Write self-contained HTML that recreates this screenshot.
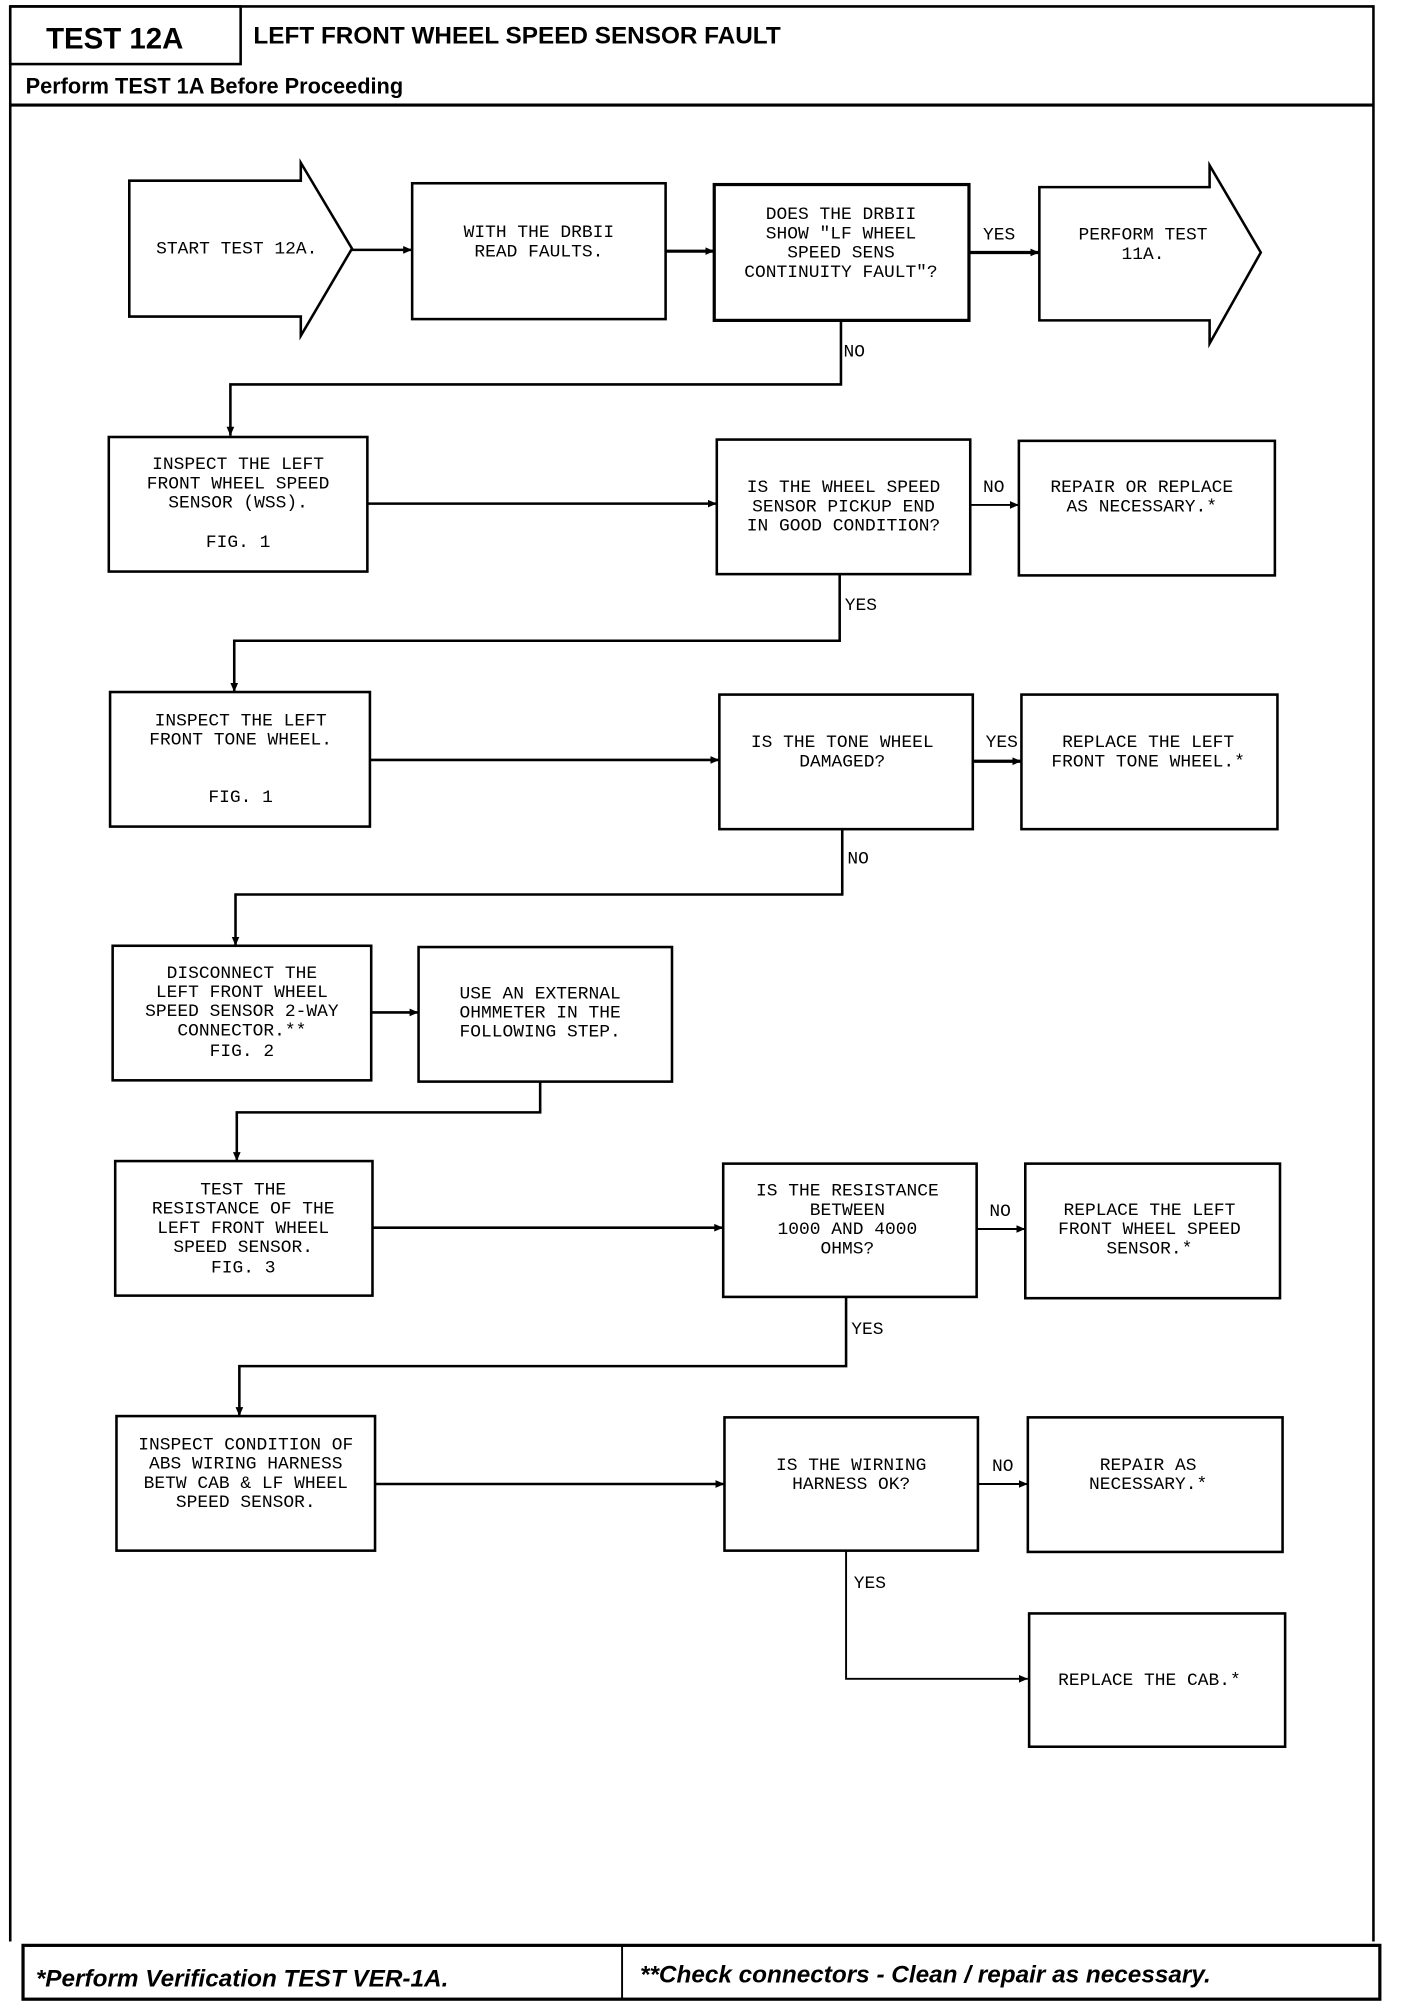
<!DOCTYPE html>
<html><head><meta charset="utf-8"><style>
html,body{margin:0;padding:0;background:#fff;}
svg{display:block;}
.t{font-family:"Liberation Mono",monospace;font-size:14px;fill:#000;text-anchor:middle;}
.l{font-family:"Liberation Mono",monospace;font-size:14px;fill:#000;}
.h{font-family:"Liberation Sans",sans-serif;font-weight:bold;fill:#000;}
rect,polygon,polyline,line{fill:none;stroke:#000;}
</style></head><body>
<svg width="1408" height="2012" viewBox="0 0 1100 1570" preserveAspectRatio="none" xmlns="http://www.w3.org/2000/svg">
<defs><marker id="a" markerWidth="8" markerHeight="8" refX="7" refY="4" orient="auto" markerUnits="userSpaceOnUse"><path d="M0,1 L7,4 L0,7 Z" fill="#000"/></marker></defs>
<polyline points="8,5 1073,5 1073,1515" stroke-width="2"/>
<line x1="8" y1="5" x2="8" y2="1515" stroke-width="2"/>
<rect x="8" y="5" width="180" height="45" stroke-width="2"/>
<line x1="8" y1="82" x2="1073" y2="82" stroke-width="2.5"/>
<text class="h" x="36" y="38" font-size="23">TEST 12A</text>
<text class="h" x="198" y="34" font-size="19">LEFT FRONT WHEEL SPEED SENSOR FAULT</text>
<text class="h" x="20" y="73" font-size="17">Perform TEST 1A Before Proceeding</text>
<rect x="18" y="1518" width="1060" height="42" stroke-width="2.5"/>
<line x1="486" y1="1518" x2="486" y2="1560" stroke-width="1.5"/>
<text class="h" x="28" y="1550" font-size="19" font-style="italic">*Perform Verification TEST VER-1A.</text>
<text class="h" x="500" y="1547" font-size="19" font-style="italic">**Check connectors - Clean / repair as necessary.</text>

<polygon points="101,141 235,141 235,127 275,194 235,262 235,247 101,247" stroke-width="2"/>
<text class="t" x="185" y="198">START TEST 12A.</text>
<rect x="322" y="143" width="198" height="106" stroke-width="2"/>
<text class="t" x="421" y="185">WITH THE DRBII</text><text class="t" x="421" y="200">READ FAULTS.</text>
<rect x="558" y="144" width="199" height="106" stroke-width="2.5"/>
<text class="t" x="657" y="171">DOES THE DRBII</text><text class="t" x="657" y="186">SHOW "LF WHEEL</text><text class="t" x="657" y="201">SPEED SENS</text><text class="t" x="657" y="216">CONTINUITY FAULT"?</text>
<polygon points="812,146 945,146 945,129 985,197 945,268 945,250 812,250" stroke-width="2"/>
<text class="t" x="893" y="187">PERFORM TEST</text><text class="t" x="893" y="202">11A.</text>
<line x1="275" y1="195" x2="322" y2="195" stroke-width="2" marker-end="url(#a)"/>
<line x1="520" y1="196" x2="558" y2="196" stroke-width="2.5" marker-end="url(#a)"/>
<line x1="757" y1="197" x2="812" y2="197" stroke-width="2.5" marker-end="url(#a)"/>
<text class="l" x="768" y="187">YES</text>
<polyline points="657,250 657,300 180,300 180,340" stroke-width="2" marker-end="url(#a)"/>
<text class="l" x="659" y="278">NO</text>

<rect x="85" y="341" width="202" height="105" stroke-width="2"/>
<text class="t" x="186" y="366">INSPECT THE LEFT</text><text class="t" x="186" y="381">FRONT WHEEL SPEED</text><text class="t" x="186" y="396">SENSOR (WSS).</text><text class="t" x="186" y="427">FIG. 1</text>
<rect x="560" y="343" width="198" height="105" stroke-width="2"/>
<text class="t" x="659" y="384">IS THE WHEEL SPEED</text><text class="t" x="659" y="399">SENSOR PICKUP END</text><text class="t" x="659" y="414">IN GOOD CONDITION?</text>
<rect x="796" y="344" width="200" height="105" stroke-width="2"/>
<text class="t" x="892" y="384">REPAIR OR REPLACE</text><text class="t" x="892" y="399">AS NECESSARY.*</text>
<line x1="287" y1="393" x2="560" y2="393" stroke-width="2" marker-end="url(#a)"/>
<line x1="758" y1="394" x2="796" y2="394" stroke-width="1.5" marker-end="url(#a)"/>
<text class="l" x="768" y="384">NO</text>
<polyline points="656,448 656,500 183,500 183,540" stroke-width="2" marker-end="url(#a)"/>
<text class="l" x="660" y="476">YES</text>

<rect x="86" y="540" width="203" height="105" stroke-width="2"/>
<text class="t" x="188" y="566">INSPECT THE LEFT</text><text class="t" x="188" y="581">FRONT TONE WHEEL.</text><text class="t" x="188" y="626">FIG. 1</text>
<rect x="562" y="542" width="198" height="105" stroke-width="2"/>
<text class="t" x="658" y="583">IS THE TONE WHEEL</text><text class="t" x="658" y="598">DAMAGED?</text>
<rect x="798" y="542" width="200" height="105" stroke-width="2"/>
<text class="t" x="897" y="583">REPLACE THE LEFT</text><text class="t" x="897" y="598">FRONT TONE WHEEL.*</text>
<line x1="289" y1="593" x2="562" y2="593" stroke-width="2" marker-end="url(#a)"/>
<line x1="760" y1="594" x2="798" y2="594" stroke-width="2.5" marker-end="url(#a)"/>
<text class="l" x="770" y="583">YES</text>
<polyline points="658,647 658,698 184,698 184,738" stroke-width="2" marker-end="url(#a)"/>
<text class="l" x="662" y="674">NO</text>

<rect x="88" y="738" width="202" height="105" stroke-width="2"/>
<text class="t" x="189" y="763">DISCONNECT THE</text><text class="t" x="189" y="778">LEFT FRONT WHEEL</text><text class="t" x="189" y="793">SPEED SENSOR 2-WAY</text><text class="t" x="189" y="808">CONNECTOR.**</text><text class="t" x="189" y="824">FIG. 2</text>
<rect x="327" y="739" width="198" height="105" stroke-width="2"/>
<text class="t" x="422" y="779">USE AN EXTERNAL</text><text class="t" x="422" y="794">OHMMETER IN THE</text><text class="t" x="422" y="809">FOLLOWING STEP.</text>
<line x1="290" y1="790" x2="327" y2="790" stroke-width="2" marker-end="url(#a)"/>
<polyline points="422,844 422,868 185,868 185,906" stroke-width="2" marker-end="url(#a)"/>

<rect x="90" y="906" width="201" height="105" stroke-width="2"/>
<text class="t" x="190" y="932">TEST THE</text><text class="t" x="190" y="947">RESISTANCE OF THE</text><text class="t" x="190" y="962">LEFT FRONT WHEEL</text><text class="t" x="190" y="977">SPEED SENSOR.</text><text class="t" x="190" y="993">FIG. 3</text>
<rect x="565" y="908" width="198" height="104" stroke-width="2"/>
<text class="t" x="662" y="933">IS THE RESISTANCE</text><text class="t" x="662" y="948">BETWEEN</text><text class="t" x="662" y="963">1000 AND 4000</text><text class="t" x="662" y="978">OHMS?</text>
<rect x="801" y="908" width="199" height="105" stroke-width="2"/>
<text class="t" x="898" y="948">REPLACE THE LEFT</text><text class="t" x="898" y="963">FRONT WHEEL SPEED</text><text class="t" x="898" y="978">SENSOR.*</text>
<line x1="291" y1="958" x2="565" y2="958" stroke-width="2" marker-end="url(#a)"/>
<line x1="763" y1="959" x2="801" y2="959" stroke-width="1.5" marker-end="url(#a)"/>
<text class="l" x="773" y="949">NO</text>
<polyline points="661,1012 661,1066 187,1066 187,1105" stroke-width="2" marker-end="url(#a)"/>
<text class="l" x="665" y="1041">YES</text>

<rect x="91" y="1105" width="202" height="105" stroke-width="2"/>
<text class="t" x="192" y="1131">INSPECT CONDITION OF</text><text class="t" x="192" y="1146">ABS WIRING HARNESS</text><text class="t" x="192" y="1161">BETW CAB &amp; LF WHEEL</text><text class="t" x="192" y="1176">SPEED SENSOR.</text>
<rect x="566" y="1106" width="198" height="104" stroke-width="2"/>
<text class="t" x="665" y="1147">IS THE WIRNING</text><text class="t" x="665" y="1162">HARNESS OK?</text>
<rect x="803" y="1106" width="199" height="105" stroke-width="2"/>
<text class="t" x="897" y="1147">REPAIR AS</text><text class="t" x="897" y="1162">NECESSARY.*</text>
<line x1="293" y1="1158" x2="566" y2="1158" stroke-width="2" marker-end="url(#a)"/>
<line x1="764" y1="1158" x2="803" y2="1158" stroke-width="1.5" marker-end="url(#a)"/>
<text class="l" x="775" y="1148">NO</text>
<polyline points="661,1210 661,1310 803,1310" stroke-width="1.5" marker-end="url(#a)"/>
<text class="l" x="667" y="1239">YES</text>
<rect x="804" y="1259" width="200" height="104" stroke-width="2"/>
<text class="t" x="898" y="1315">REPLACE THE CAB.*</text>
</svg>
</body></html>
